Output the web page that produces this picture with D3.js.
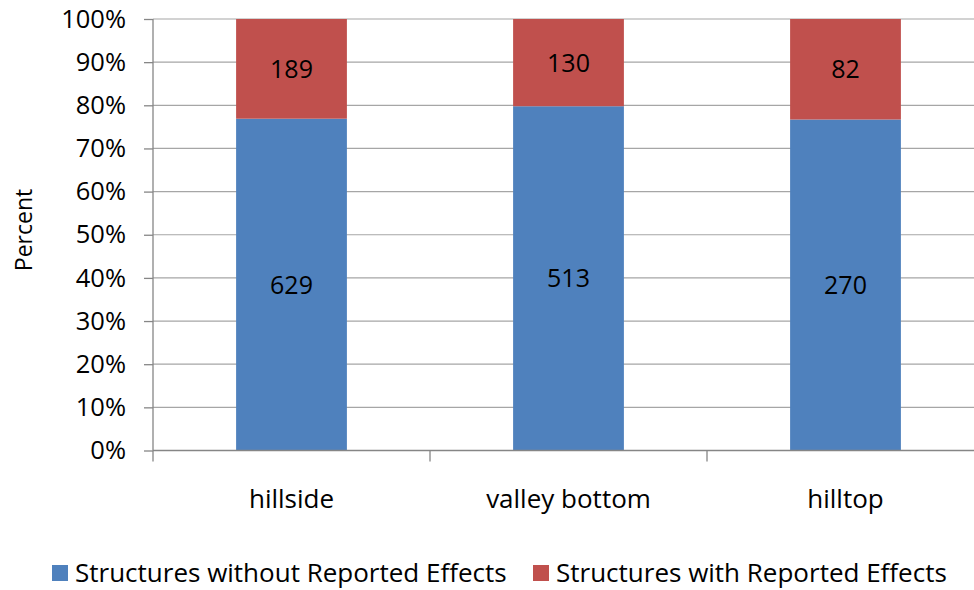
<!DOCTYPE html>
<html>
<head>
<meta charset="utf-8">
<script src="https://cdn.jsdelivr.net/npm/d3@7/dist/d3.min.js"></script>
<style>
  html, body { margin: 0; padding: 0; background: #fff; }
  svg { display: block; font-family: "Open Sans", "Liberation Sans", sans-serif; }
</style>
</head>
<body>
<svg id="chart" width="974" height="590"></svg>
<script>
// Locations of the surveyed structures
const categories = ["hillside", "valley bottom", "hilltop"];
// Counts per location
const withoutEffects = [629, 513, 270];
const withEffects = [189, 130, 82];
const seriesNames = ["Structures without Reported Effects", "Structures with Reported Effects"];
const seriesColors = ["#4F81BD", "#C0504D"];
const yTicks = [0, 0.1, 0.2, 0.3, 0.4, 0.5, 0.6, 0.7, 0.8, 0.9, 1.0];

const svg = d3.select("#chart");
const plot = { left: 153, top: 19, bottom: 450.5, band: 277 };

const x = d3.scaleBand()
  .domain(categories)
  .range([plot.left, plot.left + plot.band * categories.length])
  .paddingInner(0.6)
  .paddingOuter(0.3);

const y = d3.scaleLinear().domain([0, 1]).range([plot.bottom, plot.top]);

// Rows for the 100% stack
const rows = categories.map((c, i) => ({
  cat: c,
  without: withoutEffects[i],
  with: withEffects[i],
  total: withoutEffects[i] + withEffects[i]
}));
const stack = d3.stack()
  .keys(["without", "with"])
  .value((d, k) => d[k] / d.total);
const layers = stack(rows);

// Gridlines
svg.append("g")
  .selectAll("line")
  .data(yTicks.filter(t => t > 0))
  .join("line")
  .attr("x1", plot.left).attr("x2", 974)
  .attr("y1", d => y(d)).attr("y2", d => y(d))
  .attr("stroke", "#a6a6a6").attr("stroke-width", 1.2);

// Bars
layers.forEach((layer, li) => {
  const g = svg.append("g");
  g.selectAll("rect")
    .data(layer)
    .join("rect")
    .attr("x", d => x(d.data.cat))
    .attr("width", x.bandwidth())
    .attr("y", d => y(d[1]))
    .attr("height", d => y(d[0]) - y(d[1]))
    .attr("fill", seriesColors[li]);
  g.selectAll("text")
    .data(layer)
    .join("text")
    .attr("x", d => x(d.data.cat) + x.bandwidth() / 2)
    .attr("y", d => y((d[0] + d[1]) / 2))
    .attr("dy", "0.36em")
    .attr("text-anchor", "middle")
    .attr("font-size", 25)
    .attr("fill", "#000")
    .text(d => d.data[li === 0 ? "without" : "with"]);
});

// Y axis
const yAxis = d3.axisLeft(y)
  .tickValues(yTicks)
  .tickFormat(d3.format(".0%"))
  .tickSize(9)
  .tickPadding(18);
const ya = svg.append("g")
  .attr("transform", `translate(${plot.left},0)`)
  .call(yAxis);
ya.select(".domain").attr("stroke", "#868686").attr("stroke-width", 1.3)
  .attr("d", `M0,${plot.top}V${plot.bottom}`);
ya.selectAll(".tick line").attr("stroke", "#868686").attr("stroke-width", 1.3);
ya.selectAll(".tick text").attr("font-size", 25.5).attr("fill", "#000")
  .attr("font-family", "'Open Sans', sans-serif");

// X axis
const xa = svg.append("g")
  .attr("transform", `translate(0,${plot.bottom})`);
xa.append("line")
  .attr("x1", plot.left).attr("x2", 974)
  .attr("stroke", "#868686").attr("stroke-width", 1.3);
const boundaries = d3.range(categories.length + 1).map(i => plot.left + i * plot.band);
xa.selectAll("line.tk")
  .data(boundaries)
  .join("line")
  .attr("class", "tk")
  .attr("x1", d => d).attr("x2", d => d)
  .attr("y1", 0).attr("y2", 11)
  .attr("stroke", "#868686").attr("stroke-width", 1.3);
xa.selectAll("text")
  .data(categories)
  .join("text")
  .attr("x", d => x(d) + x.bandwidth() / 2)
  .attr("y", 57)
  .attr("text-anchor", "middle")
  .attr("font-size", 26)
  .attr("fill", "#000")
  .text(d => d);

// Y axis title
svg.append("text")
  .attr("transform", "translate(32,230) rotate(-90)")
  .attr("text-anchor", "middle")
  .attr("font-size", 23)
  .attr("fill", "#000")
  .text("Percent");

// Legend
const legendItems = [
  { name: seriesNames[0], color: seriesColors[0], x: 52 },
  { name: seriesNames[1], color: seriesColors[1], x: 533 }
];
const lg = svg.append("g");
legendItems.forEach(it => {
  lg.append("rect")
    .attr("x", it.x).attr("y", 565)
    .attr("width", 16).attr("height", 16)
    .attr("fill", it.color);
  lg.append("text")
    .attr("x", it.x + 23).attr("y", 582)
    .attr("font-size", 26)
    .attr("fill", "#000")
    .text(it.name);
});
</script>
</body>
</html>
